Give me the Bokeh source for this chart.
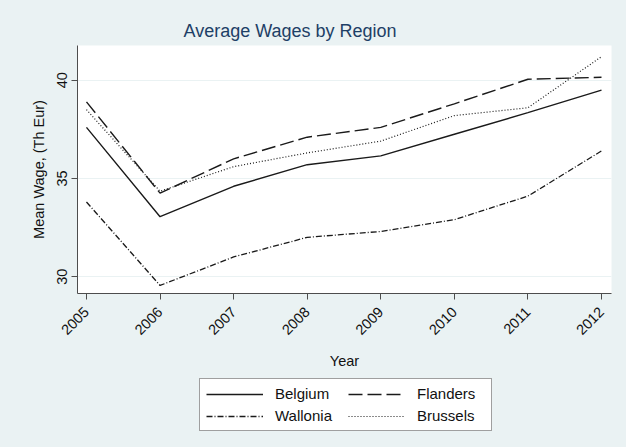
import math
from bokeh.plotting import figure
from bokeh.layouts import column
from bokeh.models import Legend, LegendItem, FixedTicker, Title, Range1d
from bokeh.embed import file_html
from bokeh.resources import INLINE

years = [2005, 2006, 2007, 2008, 2009, 2010, 2011, 2012]
belgium = [37.6, 33.05, 34.6, 35.7, 36.15, 37.25, 38.35, 39.5]
flanders = [38.9, 34.25, 36.0, 37.1, 37.6, 38.8, 40.05, 40.15]
wallonia = [33.8, 29.55, 31.0, 32.0, 32.3, 32.9, 34.1, 36.4]
brussels = [38.5, 34.35, 35.6, 36.3, 36.9, 38.2, 38.6, 41.2]
y_ticks = [30, 35, 40]
series = [("Belgium", belgium), ("Flanders", flanders),
          ("Wallonia", wallonia), ("Brussels", brussels)]

FONT = "Liberation Sans"
BG = "#EAF2F3"
COL = "#1a1a1a"
STYLE = {
    "Belgium": dict(line_width=1.4),
    "Flanders": dict(line_width=1.4, line_dash="14 5"),
    "Wallonia": dict(line_width=1.3, line_dash="6 2 1 2"),
    "Brussels": dict(line_width=1.2, line_dash="1 2"),
}

p = figure(width=626, height=372, output_backend="svg", toolbar_location=None,
           x_range=Range1d(2004.878, 2012.136), y_range=Range1d(29.14, 41.77),
           background_fill_color="white", border_fill_color=BG,
           min_border_left=77, min_border_right=15, min_border_top=45,
           min_border_bottom=77, outline_line_color=None)

t = Title(text="Average Wages by Region", text_font=FONT, text_font_size="18px",
          text_font_style="normal", text_color="#1E3F66", align="left", offset=106)
p.add_layout(t, "above")

for name, vals in series:
    p.line(years, vals, line_color=COL, **STYLE[name])

p.xaxis.ticker = FixedTicker(ticks=years)
p.yaxis.ticker = FixedTicker(ticks=y_ticks)
p.xaxis.major_label_orientation = math.pi / 4
p.yaxis.major_label_orientation = "vertical"
for ax in (p.xaxis, p.yaxis):
    ax.axis_line_color = "#4d4d4d"
    ax.major_tick_line_color = "#4d4d4d"
    ax.major_tick_out = 6
    ax.major_tick_in = 0
    ax.minor_tick_line_color = None
    ax.major_label_text_font = FONT
    ax.major_label_text_font_size = "14.5px"
    ax.major_label_text_color = "#111111"
    ax.axis_label_text_font = FONT
    ax.axis_label_text_font_size = "14.5px"
    ax.axis_label_text_font_style = "normal"
    ax.axis_label_text_color = "#111111"
p.xaxis.major_label_standoff = 10
p.xaxis.axis_label_standoff = 11
p.yaxis.major_label_standoff = 4
p.yaxis.axis_label_standoff = 8
p.xaxis.axis_label = "Year"
p.yaxis.axis_label = "Mean Wage, (Th Eur)"
p.xgrid.grid_line_color = None
p.ygrid.grid_line_color = BG
p.ygrid.grid_line_width = 1.2

# legend strip below the chart
lg = figure(width=626, height=75, output_backend="svg", toolbar_location=None,
            x_range=Range1d(0, 1), y_range=Range1d(100, 101),
            x_axis_type=None, y_axis_type=None,
            background_fill_color=BG, border_fill_color=BG,
            min_border=0, min_border_left=0, min_border_right=0,
            min_border_top=0, min_border_bottom=0, outline_line_color=None)
lg.xgrid.grid_line_color = None
lg.ygrid.grid_line_color = None
rend = {}
for name, vals in series:
    rend[name] = lg.line(years, vals, line_color=COL, **STYLE[name])

legend = Legend(items=[
    LegendItem(label="Belgium", renderers=[rend["Belgium"]]),
    LegendItem(label="Wallonia", renderers=[rend["Wallonia"]]),
    LegendItem(label="Flanders", renderers=[rend["Flanders"]]),
    LegendItem(label="Brussels", renderers=[rend["Brussels"]]),
], ncols=2, location=(122, 16), orientation="vertical",
   label_text_font=FONT, label_text_font_size="15px", label_text_color="#111111",
   border_line_color="#404040", border_line_width=1,
   background_fill_color="white", background_fill_alpha=1,
   glyph_width=57, glyph_height=14, label_height=14, label_width=68,
   spacing=5, padding=6, margin=0, label_standoff=12)
lg.add_layout(legend, "center")

layout = column(p, lg, spacing=0, styles={"background-color": BG})
open("out.html", "w").write(file_html(layout, INLINE))
